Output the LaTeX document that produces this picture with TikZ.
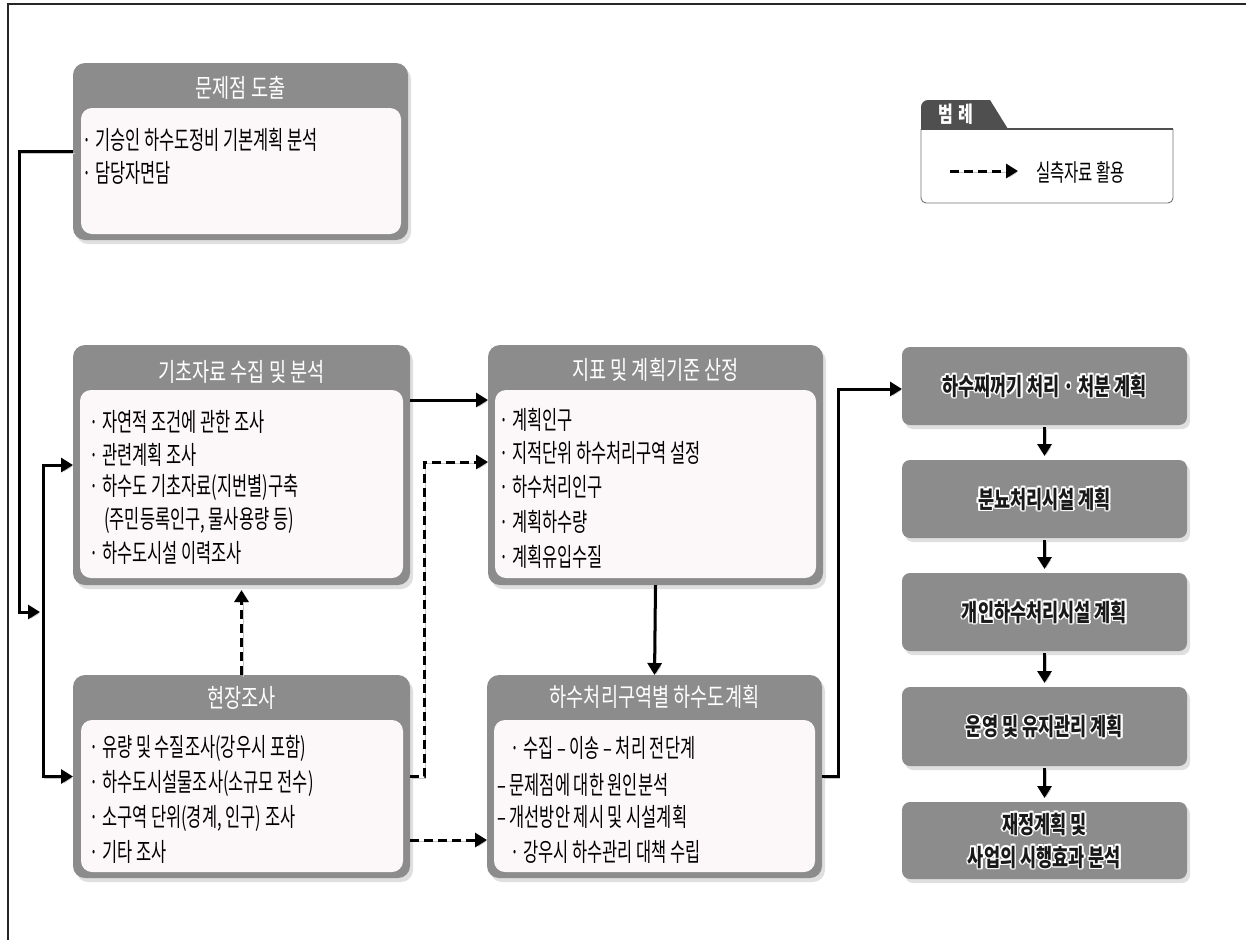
\documentclass[tikz,border=0pt]{standalone}
\usepackage{fontspec}
\setmainfont{Noto Sans CJK KR}
\newfontfamily\bodyf[FakeStretch=0.645]{Noto Sans CJK KR}
\newfontfamily\headf[FakeStretch=0.73]{Noto Sans CJK KR}
\usetikzlibrary{arrows.meta,shadows,calc}
\definecolor{boxgray}{HTML}{8C8C8C}
\definecolor{innerw}{HTML}{FCF8F9}
\definecolor{tabgray}{HTML}{4F4F4F}
\tikzset{
  outerbox/.style={fill=boxgray, rounded corners=12pt, inner sep=0pt, outer sep=0pt,
    drop shadow={shadow xshift=3pt, shadow yshift=-4pt, opacity=0.25}},
  innerbox/.style={fill=innerw, rounded corners=11pt, inner sep=0pt, outer sep=0pt},
  headtxt/.style={font=\headf\fontsize{25.5}{28}\selectfont, text=white, inner sep=0pt},
  bodytxt/.style={font=\bodyf\fontsize{25.5}{28}\selectfont, text=black, anchor=west, inner sep=0pt},
  rbox/.style={fill=boxgray, rounded corners=8pt, inner sep=0pt, outer sep=0pt,
    minimum width=285pt, drop shadow={shadow xshift=3pt, shadow yshift=-4pt, opacity=0.25}},
  rtxt/.style={font=\headf\bfseries\fontsize{24}{33}\selectfont, align=center, inner sep=0pt, text=black!90},
  lineshadow/.style={preaction={draw=black!22, transform canvas={shift={(1.6pt,-1.6pt)}}}},
  conn/.style={line width=3pt, -{Triangle[length=12pt,width=14pt]}, lineshadow},
  dconn/.style={conn, dash pattern=on 9pt off 5pt},
}
\newcommand\halolabel[2]{%
  \foreach \ang in {0,45,...,315}{\node[rtxt,text=white] at ([shift={(\ang:1.5pt)}]#1.center) {#2};}
  \node[rtxt] (#1t) at (#1.center) {#2};}
\begin{document}
\begin{tikzpicture}[x=1pt,y=-1pt]
\useasboundingbox[fill=white] (0,0) rectangle (1246,940);
\draw[line width=1.8pt, black!85] (8,940) -- (8,4) -- (1246,4);

% ---- box A
\node[outerbox, minimum width=335pt, minimum height=177pt] (A) at (240.5,151.5) {};
\node[innerbox, minimum width=320pt, minimum height=126pt] (Ai) at (241,171) {};
\node[headtxt] (Ah) at (240.5,88) {문제점 도출};
\node[bodytxt] (A1) at (82,140) {· 기승인 하수도정비 기본계획 분석};
\node[bodytxt] (A2) at (82,173) {· 담당자면담};

% ---- box B
\node[outerbox, minimum width=337pt, minimum height=240pt] (B) at (241.5,465) {};
\node[innerbox, minimum width=323pt, minimum height=188pt] (Bi) at (241.5,484) {};
\node[headtxt] (Bh) at (241.5,372) {기초자료 수집 및 분석};
\node[bodytxt] (B1) at (89,422) {· 자연적 조건에 관한 조사};
\node[bodytxt] (B2) at (89,455) {· 관련계획 조사};
\node[bodytxt] (B3) at (89,487) {· 하수도 기초자료(지번별)구축};
\node[bodytxt] (B4) at (104,520) {(주민등록인구, 물사용량 등)};
\node[bodytxt] (B5) at (89,553) {· 하수도시설 이력조사};

% ---- box C
\node[outerbox, minimum width=335pt, minimum height=240pt] (C) at (655.5,465) {};
\node[innerbox, minimum width=321pt, minimum height=188pt] (Ci) at (655.5,484) {};
\node[headtxt] (Ch) at (655.5,370) {지표 및 계획기준 산정};
\node[bodytxt] (C1) at (499,420) {· 계획인구};
\node[bodytxt] (C2) at (499,453) {· 지적단위 하수처리구역 설정};
\node[bodytxt] (C3) at (499,487) {· 하수처리인구};
\node[bodytxt] (C4) at (499,522) {· 계획하수량};
\node[bodytxt] (C5) at (499,557) {· 계획유입수질};

% ---- box D
\node[outerbox, minimum width=337pt, minimum height=203pt] (D) at (241.5,776.5) {};
\node[innerbox, minimum width=322pt, minimum height=152pt] (Di) at (242,796) {};
\node[headtxt] (Dh) at (241.5,698) {현장조사};
\node[bodytxt] (D1) at (89,748) {· 유량 및 수질조사(강우시 포함)};
\node[bodytxt] (D2) at (89,783) {· 하수도시설물조사(소규모 전수)};
\node[bodytxt] (D3) at (89,818) {· 소구역 단위(경계, 인구) 조사};
\node[bodytxt] (D4) at (89,852) {· 기타 조사};

% ---- box E
\node[outerbox, minimum width=335pt, minimum height=203pt] (E) at (654.5,776.5) {};
\node[innerbox, minimum width=321pt, minimum height=152pt] (Ei) at (654.5,796) {};
\node[headtxt] (Eh) at (654.5,697) {하수처리구역별 하수도계획};
\node[bodytxt] (E1) at (510,748) {· 수집 – 이송 – 처리 전단계};
\node[bodytxt] (E2) at (497,785) {– 문제점에 대한 원인분석};
\node[bodytxt] (E3) at (497,817) {– 개선방안 제시 및 시설계획};
\node[bodytxt] (E4) at (510,852) {· 강우시 하수관리 대책 수립};

% ---- right column
\node[rbox, minimum height=78pt] (R1) at (1044.5,386) {};
\node[rbox, minimum height=78pt] (R2) at (1044.5,499) {};
\node[rbox, minimum height=78pt] (R3) at (1044.5,612) {};
\node[rbox, minimum height=79pt] (R4) at (1044.5,726.5) {};
\node[rbox, minimum height=77pt] (R5) at (1044.5,840.5) {};
\halolabel{R1}{하수찌꺼기 처리 · 처분 계획}
\halolabel{R2}{분뇨처리시설 계획}
\halolabel{R3}{개인하수처리시설 계획}
\halolabel{R4}{운영 및 유지관리 계획}
\halolabel{R5}{재정계획 및\\사업의 시행효과 분석}

% ---- legend
\fill[tabgray] (921,129) -- (921,107) arc[start angle=180,end angle=270,radius=7] -- (990,100) -- (1008,129) -- cycle;
\node[font=\headf\bfseries\fontsize{22}{24}\selectfont, text=white, inner sep=0pt] (legt) at (956,114) {범\hspace{5pt}례};
\draw[black!55, line width=0.9pt, rounded corners=5pt] (921,129) -- (921,203) -- (1173,203) -- (1173,129);
\draw[tabgray, line width=2.5pt] (921,129) -- (1173,129);
\coordinate (l1) at (950,171);
\coordinate (l2) at (1018,171);
\draw[dconn] (l1) -- (l2);
\node[bodytxt, font=\bodyf\fontsize{24}{26}\selectfont] (legtx) at (1036,172) {실측자료 활용};

% ---- connectors
\coordinate (c1) at (19,612);
\coordinate (c1e) at (40,612);
\draw[conn] (A.west) -| (c1) -- (c1e);
\coordinate (c2) at (43,600);
\draw[line width=3pt, lineshadow, {Triangle[length=12pt,width=14pt]}-{Triangle[length=12pt,width=14pt]}] (B.west) -| (c2) |- (D.west);
\draw[conn] ([yshift=65pt]B.east) -- ([yshift=65pt]C.west);
\draw[dconn] (D.north) -- ([yshift=-5pt]B.south);
\coordinate (c3) at (424,600);
\draw[dconn] (D.east) -| (c3) |- ([yshift=3pt]C.west);
\draw[dconn] ([yshift=-63.5pt]D.east) -- ([yshift=-63.5pt]E.west);
\draw[conn] (C.south) -- (E.north);
\coordinate (c4) at (838,600);
\draw[conn] (E.east) -| (c4) |- ([yshift=-3pt]R1.west);
\draw[conn, shorten <=2pt, shorten >=4pt] (R1.south) -- (R2.north);
\draw[conn, shorten <=2pt, shorten >=4pt] (R2.south) -- (R3.north);
\draw[conn, shorten <=2pt, shorten >=4pt] (R3.south) -- (R4.north);
\draw[conn, shorten <=2pt, shorten >=4pt] (R4.south) -- (R5.north);
\end{tikzpicture}
\end{document}
